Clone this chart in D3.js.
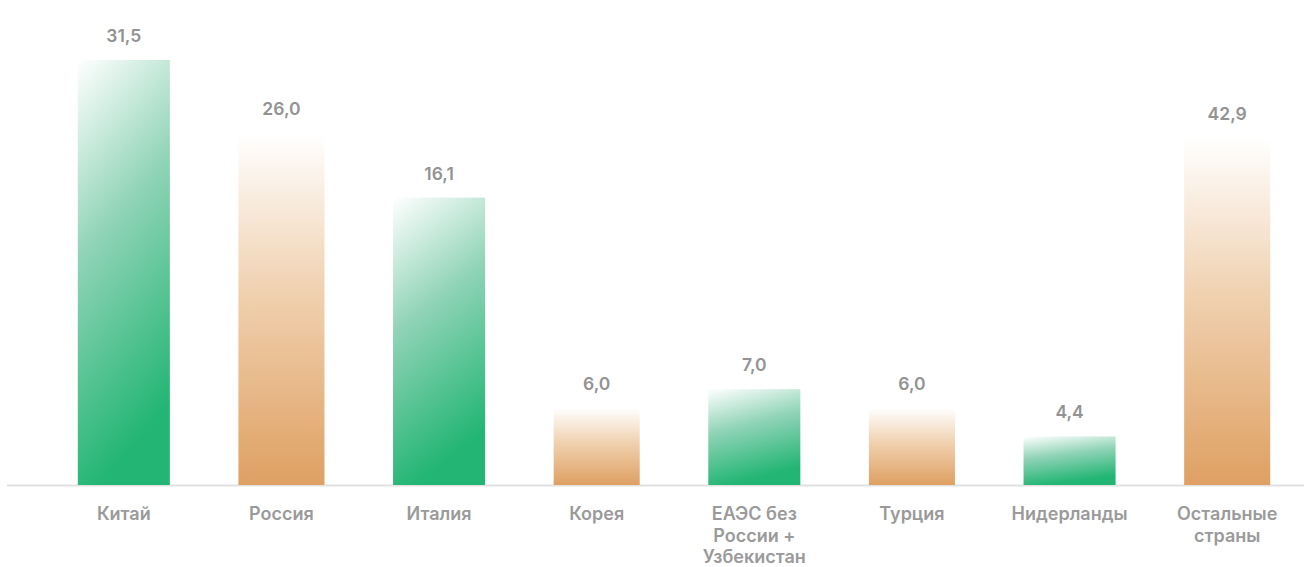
<!DOCTYPE html>
<html>
<head>
<meta charset="utf-8">
<script src="https://cdn.jsdelivr.net/npm/d3@7"></script>
<style>
  html, body { margin: 0; padding: 0; background: #ffffff; }
  svg { display: block; }
  text { font-family: Inter, "Noto Sans", sans-serif; }
</style>
</head>
<body>
<div id="chart"></div>
<script>
// Category names (line breaks as in the original layout)
const categories = ["Китай", "Россия", "Италия", "Корея", "ЕАЭС без России + Узбекистан", "Турция", "Нидерланды", "Остальные страны"];
const categoryLines = [["Китай"], ["Россия"], ["Италия"], ["Корея"], ["ЕАЭС без", "России +", "Узбекистан"], ["Турция"], ["Нидерланды"], ["Остальные", "страны"]];
// Printed value labels
const valueLabels = ["31,5", "26,0", "16,1", "6,0", "7,0", "6,0", "4,4", "42,9"];
// Bar lengths as drawn in the picture (the source bars are not proportional to the printed labels)
const barLengths = [31.5, 26.1, 21.3, 5.7, 7.1, 5.7, 3.6, 25.7];
// Colour group of each bar
const colorGroup = ["green", "orange", "green", "orange", "green", "orange", "green", "orange"];

const W = 1304, H = 567;
const svg = d3.select("#chart").append("svg").attr("width", W).attr("height", H);

const defs = svg.append("defs");
const gGreen = defs.append("linearGradient").attr("id", "gradGreen")
  .attr("x1", "0").attr("y1", "0").attr("x2", "0.25").attr("y2", "1");
gGreen.append("stop").attr("offset", "0").attr("stop-color", "#ffffff");
gGreen.append("stop").attr("offset", "0.45").attr("stop-color", "#8fd3b6");
gGreen.append("stop").attr("offset", "1").attr("stop-color", "#22b573");

const gOrange = defs.append("linearGradient").attr("id", "gradOrange")
  .attr("x1", "0").attr("y1", "0").attr("x2", "0").attr("y2", "1");
gOrange.append("stop").attr("offset", "0").attr("stop-color", "#ffffff");
gOrange.append("stop").attr("offset", "0.45").attr("stop-color", "#f0d1b0");
gOrange.append("stop").attr("offset", "1").attr("stop-color", "#dfa062");

const x = d3.scaleBand().domain(categories).range([45, 1306]).paddingInner(0.416).paddingOuter(0.208);
const y = d3.scaleLinear().domain([0, 31.5]).range([485, 60]);

// baseline
svg.append("line")
  .attr("x1", 7).attr("x2", W)
  .attr("y1", y(0) + 0.5).attr("y2", y(0) + 0.5)
  .attr("stroke", "#e1e1e1").attr("stroke-width", 2);

const data = categories.map((c, i) => ({ c, v: barLengths[i], label: valueLabels[i], g: colorGroup[i], lines: categoryLines[i] }));

svg.selectAll("rect.bar").data(data).enter().append("rect")
  .attr("class", "bar")
  .attr("x", d => x(d.c) + (d.g === "orange" ? 3 : 0))
  .attr("width", d => x.bandwidth() - (d.g === "orange" ? 6 : 0))
  .attr("y", d => y(d.v))
  .attr("height", d => y(0) - y(d.v))
  .attr("fill", d => d.g === "green" ? "url(#gradGreen)" : "url(#gradOrange)");

svg.selectAll("text.val").data(data).enter().append("text")
  .attr("class", "val")
  .attr("x", d => x(d.c) + x.bandwidth() / 2)
  .attr("y", d => y(d.v) - 18)
  .attr("text-anchor", "middle")
  .attr("font-size", 17.5)
  .attr("font-weight", 600)
  .attr("fill", "#939393")
  .text(d => d.label);

const cat = svg.selectAll("text.cat").data(data).enter().append("text")
  .attr("class", "cat")
  .attr("x", d => x(d.c) + x.bandwidth() / 2)
  .attr("y", 520)
  .attr("text-anchor", "middle")
  .attr("font-size", 18)
  .attr("font-weight", 600)
  .attr("fill", "#9a9a9a");
cat.each(function(d) {
  const t = d3.select(this);
  d.lines.forEach((ln, k) => {
    t.append("tspan")
      .attr("x", x(d.c) + x.bandwidth() / 2)
      .attr("dy", k === 0 ? 0 : 21.5)
      .text(ln);
  });
});
</script>
</body>
</html>
